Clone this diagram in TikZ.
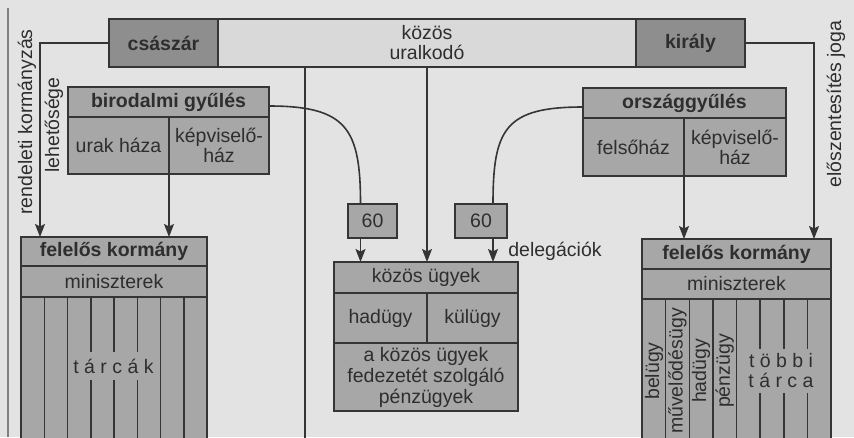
\documentclass[tikz,border=0pt]{standalone}
\usepackage{fontspec}
\setmainfont{Liberation Sans}
\usetikzlibrary{arrows.meta,calc}

\definecolor{bgpage}{HTML}{E3E3E3}
\definecolor{boxdark}{HTML}{8E8E8E}
\definecolor{boxmid}{HTML}{A7A7A7}
\definecolor{boxlight}{HTML}{D9D9D9}
\definecolor{inkline}{HTML}{353535}
\definecolor{inktext}{HTML}{2E2E2E}

\begin{document}
\begin{tikzpicture}[y=1pt, x=1pt, yscale=-1, inner sep=0pt, outer sep=0pt,
  txt/.style={text=inktext, font=\fontsize{19.5}{20}\selectfont, align=center},
  cell/.style={txt, draw=inkline, line width=1.5pt, fill=boxmid, anchor=north west},
  hd/.style={cell, font=\fontsize{19.5}{20}\selectfont\bfseries},
  arr/.style={draw=inkline, line width=1.6pt, -{Stealth[length=13pt,width=10pt,inset=2.5pt]}},
  link/.style={draw=inkline, line width=1.6pt},
  vlabel/.style={txt, rotate=90}]
\useasboundingbox (0,0) rectangle (854,437);
\clip (0,0) rectangle (854,437);
\fill[bgpage] (0,0) rectangle (854,437);
\draw[gray, line width=1.2pt] (8,8) -- (8,437);

% uralkodo
\node[hd, fill=boxdark, minimum width=109pt, minimum height=48pt] (csaszar) at (109,19) {császár};
\node[cell, fill=boxlight, minimum width=418pt, minimum height=48pt] (kozos) at (218,19) {közös\\uralkodó};
\node[hd, fill=boxdark, minimum width=109pt, minimum height=48pt] (kiraly) at (636,19) {király};

% birodalmi gyules
\node[hd, minimum width=201pt, minimum height=30pt] (birgy) at (68,87) {birodalmi gyűlés};
\node[cell, minimum width=101pt, minimum height=57pt] (urak) at (68,117) {urak háza};
\node[cell, minimum width=100pt, minimum height=57pt] (kepvA) at (169,117) {képviselő-\\ház};

% orszaggyules
\node[hd, minimum width=203pt, minimum height=30pt] (orgy) at (583,88) {országgyűlés};
\node[cell, minimum width=101pt, minimum height=58pt] (felso) at (583,118) {felsőház};
\node[cell, minimum width=102pt, minimum height=58pt] (kepvB) at (684,118) {képviselő-\\ház};

% bal kormany
\node[hd, minimum width=186pt, minimum height=29pt] (kormA) at (21,237) {felelős kormány};
\node[cell, minimum width=186pt, minimum height=31pt] (minA) at (21,266) {miniszterek};
\path[draw=inkline, fill=boxmid, line width=1.5pt] (minA.south west) rectangle (207,450);
\foreach \i in {1,...,7}
  \draw[inkline, line width=1.5pt] (21+\i*23.25,297) -- (21+\i*23.25,450);
\node[txt, fill=boxmid, inner xsep=1pt, inner ysep=7pt] (tarcak) at (113.5,366) {t á r c á k};

% jobb kormany
\node[hd, minimum width=189pt, minimum height=30pt] (kormB) at (642,239) {felelős kormány};
\node[cell, minimum width=189pt, minimum height=30pt] (minB) at (642,269) {miniszterek};
\path[draw=inkline, fill=boxmid, line width=1.5pt] (minB.south west) rectangle (831,450);
\foreach \i in {1,...,7}
  \draw[inkline, line width=1.5pt] (642+\i*23.625,299) -- (642+\i*23.625,450);
\node[vlabel] (belugy) at (654,371) {belügy};
\node[vlabel] (muvel) at (677.4,371) {művelődésügy};
\node[vlabel] (hadB) at (701,371) {hadügy};
\node[vlabel] (penzB) at (724.7,371) {pénzügy};
\node[txt, fill=boxmid, inner xsep=1pt, inner ysep=5pt] (tobbi) at (781,371) {t ö b b i\\t á r c a};

% kozos ugyek
\node[cell, minimum width=184pt, minimum height=31pt] (kozugy) at (334,262) {közös ügyek};
\node[cell, minimum width=93pt, minimum height=50pt] (hadugy) at (334,293) {hadügy};
\node[cell, minimum width=91pt, minimum height=50pt] (kulugy) at (427,293) {külügy};
\node[cell, minimum width=184pt, minimum height=68pt, font=\fontsize{19.5}{21}\selectfont] (penz) at (334,343) {a közös ügyek\\fedezetét szolgáló\\pénzügyek};
\node[cell, minimum width=49pt, minimum height=34pt] (hatvanA) at (348,204) {60};
\node[cell, minimum width=52pt, minimum height=34pt] (hatvanB) at (455,204) {60};
\node[txt] (deleg) at (555,251) {delegációk};

% oldalfeliratok
\node[vlabel] (rendeleti) at (27,122) {rendeleti kormányzás};
\node[vlabel] (lehet) at (54,125) {lehetősége};
\node[vlabel] (elosz) at (836,104) {előszentesítés joga};

% vonalak
\coordinate (gutter) at (305,440);
\draw[inkline, line width=1.3pt] (gutter |- kozos.south) -- (gutter);
\draw[arr] (csaszar.west) -| ($(kormA.north west)+(19,0)$);
\draw[arr] (kiraly.east) -| ($(kormB.north east)+(-17,0)$);
\draw[arr] (urak.south east) -- (urak.south east |- kormA.north);
\draw[arr] (felso.south east) -- (felso.south east |- kormB.north);
\draw[arr] (kozos.south) -- (kozos.south |- kozugy.north);
\draw[link] ($(birgy.east)+(0,4)$) .. controls +(78,0) and +(0,-75) .. ($(hatvanA.north)+(-12,0)$);
\draw[link] ($(orgy.west)+(0,4)$) .. controls +(-78,0) and +(0,-75) .. ($(hatvanB.north)+(12,0)$);
\coordinate (dA) at ($(hatvanA.south)+(-12,0)$);
\coordinate (dB) at ($(hatvanB.south)+(12,0)$);
\draw[arr] (dA) -- (dA |- kozugy.north);
\draw[arr] (dB) -- (dB |- kozugy.north);
\end{tikzpicture}
\end{document}
